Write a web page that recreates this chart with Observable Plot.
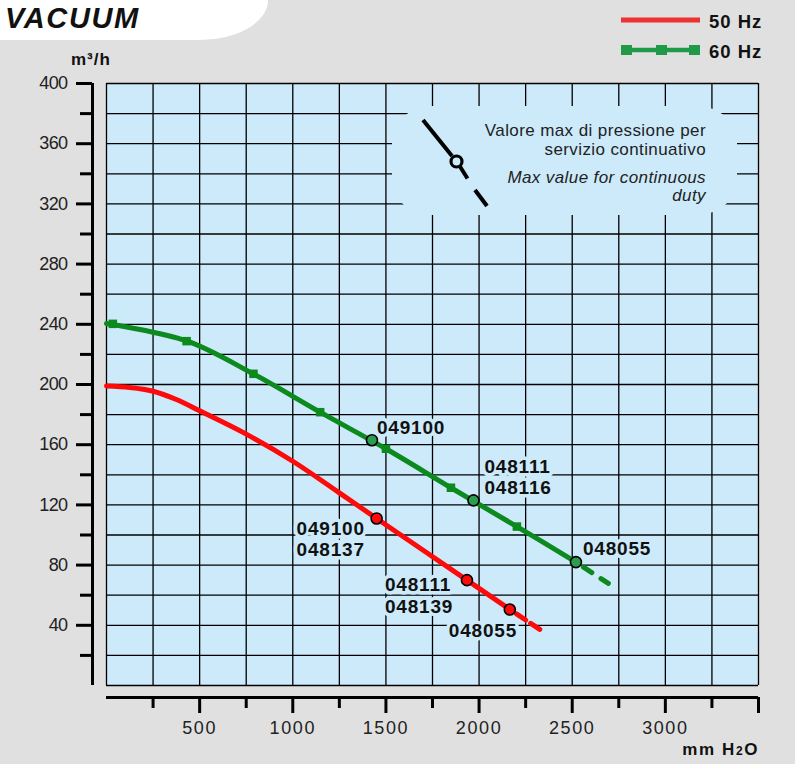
<!DOCTYPE html>
<html>
<head>
<meta charset="utf-8">
<script src="https://cdn.jsdelivr.net/npm/d3@7"></script>
<script src="https://cdn.jsdelivr.net/npm/@observablehq/plot@0.6"></script>
<style>
  body { margin: 0; background: #e0e0e0; }
  #page { position: relative; width: 795px; height: 764px; background: #e0e0e0; overflow: hidden;
          font-family: "Liberation Sans", Arial, sans-serif; }
  #page > svg { position: absolute; left: 0; top: 0; }
</style>
</head>
<body>
<div id="page"></div>
<script>
// ---------- data ----------
const titleText = "VACUUM";
const yUnit = "m³/h";
const seriesNames = ["50 Hz", "60 Hz"];

// 50 Hz curve (mm H2O, m3/h)
const red50X = [0, 125, 250, 375, 500, 750, 1000, 1250, 1450, 1935, 2165];
const red50Y = [199, 198, 195.5, 190, 182.5, 167, 149, 128, 111, 70, 50.5];
const red50DashX = [2165, 2335];
const red50DashY = [50.5, 36.5];
const red50DotX = [1450, 1935, 2165];
const red50DotY = [111, 70, 50.5];
const red50Labels = ["049100\n048137", "048111\n048139", "048055"];

// 60 Hz curve
const green60X = [0, 430, 789, 1147, 1500, 1849, 2203, 2520];
const green60Y = [240.5, 229, 207, 181.6, 157.3, 131.4, 105.6, 82];
const green60MarkX = [34, 430, 789, 1147, 1500, 1849, 2203];
const green60MarkY = [240.3, 228.8, 207.1, 181.6, 157.3, 131.4, 105.6];
const green60DashX = [2520, 2694];
const green60DashY = [82, 67.8];
const green60DotX = [1425, 1970, 2520];
const green60DotY = [163, 123, 82];
const green60Labels = ["049100", "048111\n048116", "048055"];

// axes
const xMajorTicks = [500, 1000, 1500, 2000, 2500, 3000, 3500];
const xTickLabels = [500, 1000, 1500, 2000, 2500, 3000];
const xMinorTicks = [250, 750, 1250, 1750, 2250, 2750, 3250];
const xGridTicks = [0, 250, 500, 750, 1000, 1250, 1500, 1750, 2000, 2250, 2500, 2750, 3000, 3250, 3500];
const yMajorTicks = [40, 80, 120, 160, 200, 240, 280, 320, 360, 400];
const yMinorTicks = [20, 60, 100, 140, 180, 220, 260, 300, 340, 380];
const yGridTicks = [0, 20, 40, 60, 80, 100, 120, 140, 160, 180, 200, 220, 240, 260, 280, 300, 320, 340, 360, 380, 400];
const xUnit = ["mm H", "2", "O"];
const noteIt = ["Valore max di pressione per", "servizio continuativo"];
const noteEn = ["Max value for continuous", "duty"];

// ---------- build tables ----------
const zip = (xs, ys, extra = {}) => xs.map((x, i) => ({x, y: ys[i], ...Object.fromEntries(Object.entries(extra).map(([k, v]) => [k, v[i]]))}));
const redLine = zip(red50X, red50Y);
const redDash = zip(red50DashX, red50DashY);
const redDots = zip(red50DotX, red50DotY, {label: red50Labels});
const greenLine = zip(green60X, green60Y);
const greenMarks = zip(green60MarkX, green60MarkY);
const greenDash = zip(green60DashX, green60DashY);
const greenDots = zip(green60DotX, green60DotY, {label: green60Labels});

const BG = "#cceafa";
const RED = "#ff0a0a";
const GREEN = "#0c8a1e";
const GREEN_DOT = "#2c9c52";
const LEGEND_GREEN = "#1f9a48";

const lbl = (d, opts) => Plot.text([d], {x: "x", y: "y", text: "label", textAnchor: "start", lineAnchor: "bottom",
  fontSize: 19, fontWeight: "bold", fill: "#111", stroke: BG, strokeWidth: 7, lineHeight: 1.14, ...opts});

const chart = Plot.plot({
  width: 795, height: 764,
  marginLeft: 106, marginRight: 37, marginTop: 83, marginBottom: 79,
  x: {domain: [0, 3500], label: null},
  y: {domain: [0, 400], label: null},
  style: {background: "transparent", fontFamily: "'Liberation Sans', Arial, sans-serif", color: "#111"},
  marks: [
    Plot.frame({fill: BG, stroke: null}),
    Plot.gridX(xGridTicks, {stroke: "#000", strokeOpacity: 1, strokeWidth: 1.3}),
    Plot.gridY(yGridTicks, {stroke: "#000", strokeOpacity: 1, strokeWidth: 1.3}),
    // separated axis lines
    Plot.ruleX([0], {dx: -14, stroke: "#000", strokeWidth: 3}),
    Plot.ruleY([0], {dy: 12, stroke: "#000", strokeWidth: 3}),
    Plot.axisY(yMajorTicks, {anchor: "left", tickSize: 16, tickPadding: 9, dx: -14, stroke: "#000", strokeWidth: 3,
      fill: "#222", fontSize: 18, label: null, tickFormat: d => String(d)}),
    Plot.axisY(yMinorTicks, {anchor: "left", tickSize: 12, dx: -14, stroke: "#000", strokeWidth: 3, label: null, tickFormat: () => ""}),
    Plot.axisX(xMajorTicks, {anchor: "bottom", tickSize: 16, tickPadding: 8, dy: 12, stroke: "#000", strokeWidth: 3,
      fill: "#222", fontSize: 18, label: null, tickFormat: d => xTickLabels.includes(d) ? String(d) : ""}),
    Plot.axisX(xMinorTicks, {anchor: "bottom", tickSize: 11, dy: 12, stroke: "#000", strokeWidth: 3, label: null, tickFormat: () => ""}),
    // curves
    Plot.line(redLine, {x: "x", y: "y", stroke: RED, strokeWidth: 5, curve: "catmull-rom"}),
    Plot.line(redDash, {x: "x", y: "y", stroke: RED, strokeWidth: 5, strokeDasharray: "11 6", strokeDashoffset: 9}),
    Plot.line(greenLine, {x: "x", y: "y", stroke: GREEN, strokeWidth: 5, curve: "catmull-rom"}),
    Plot.line(greenDash, {x: "x", y: "y", stroke: GREEN, strokeWidth: 5, strokeDasharray: "10 11", strokeDashoffset: 12}),
    Plot.dot(greenMarks, {x: "x", y: "y", symbol: "square", r: 4.8, fill: GREEN, stroke: null}),
    Plot.dot(redDots, {x: "x", y: "y", r: 5.5, fill: RED, stroke: "#000", strokeWidth: 1.6}),
    Plot.dot(greenDots, {x: "x", y: "y", r: 5.5, fill: GREEN_DOT, stroke: "#000", strokeWidth: 1.6}),
    // labels
    lbl(greenDots[0], {dx: 5, dy: -6}),
    lbl(greenDots[1], {dx: 11, dy: -6}),
    lbl(greenDots[2], {dx: 7, dy: -7}),
    lbl(redDots[0], {dx: -80, dy: 38}),
    lbl(redDots[1], {dx: -82, dy: 33}),
    lbl(redDots[2], {dx: -61, dy: 28})
  ]
});
chart.style.letterSpacing = "0.8px";
d3.select(chart).selectAll('g[aria-label="x-axis tick label"]').style("letter-spacing", "1.6px");
d3.select(chart).selectAll('g[aria-label="y-axis tick label"]').style("letter-spacing", "-0.6px");

const page = document.getElementById("page");
page.appendChild(chart);

// ---------- decorations overlay: title, legend, unit labels, note box ----------
const ov = d3.select(page).append("svg").attr("width", 795).attr("height", 764)
  .style("font-family", "'Liberation Sans', Arial, sans-serif");

ov.append("path").attr("d", "M0,0 H268 A68,40 0 0 1 200,40 H0 Z").attr("fill", "#fff");
ov.append("text").attr("x", 5).attr("y", 28).attr("font-size", 29).attr("font-weight", "bold")
  .attr("font-style", "italic").attr("letter-spacing", "1.6px").attr("fill", "#111").text(titleText);
ov.append("text").attr("x", 71).attr("y", 65).attr("font-size", 17).attr("font-weight", "bold")
  .attr("letter-spacing", "1px").attr("fill", "#111").text(yUnit);

const xu = ov.append("text").attr("x", 759).attr("y", 755).attr("text-anchor", "end").attr("font-size", 17)
  .attr("font-weight", "bold").attr("letter-spacing", "1.6px").attr("fill", "#111");
xu.append("tspan").text(xUnit[0]);
xu.append("tspan").attr("font-size", 12).text(xUnit[1]);
xu.append("tspan").text(xUnit[2]);

// legend
ov.append("line").attr("x1", 621).attr("x2", 700).attr("y1", 20).attr("y2", 20).attr("stroke", "#ee3030").attr("stroke-width", 5);
ov.append("line").attr("x1", 621).attr("x2", 700).attr("y1", 50).attr("y2", 50).attr("stroke", LEGEND_GREEN).attr("stroke-width", 4.5);
[621, 656, 689].forEach(x => ov.append("rect").attr("x", x).attr("y", 45).attr("width", 11).attr("height", 10).attr("fill", LEGEND_GREEN));
ov.append("text").attr("x", 709).attr("y", 28).attr("font-size", 18.5).attr("font-weight", "bold")
  .attr("letter-spacing", "1px").attr("fill", "#111").text(seriesNames[0]);
ov.append("text").attr("x", 709).attr("y", 58).attr("font-size", 18.5).attr("font-weight", "bold")
  .attr("letter-spacing", "1px").attr("fill", "#111").text(seriesNames[1]);

// note box
ov.append("rect").attr("x", 392).attr("y", 106).attr("width", 345).attr("height", 109)
  .attr("rx", 40).attr("ry", 35).attr("fill", BG);
ov.append("line").attr("x1", 423).attr("y1", 120).attr("x2", 452).attr("y2", 156).attr("stroke", "#000").attr("stroke-width", 4);
ov.append("circle").attr("cx", 456.5).attr("cy", 161.5).attr("r", 5.5).attr("fill", BG).attr("stroke", "#000").attr("stroke-width", 3.2);
ov.append("line").attr("x1", 460).attr("y1", 166.5).attr("x2", 467.5).attr("y2", 178.5).attr("stroke", "#000").attr("stroke-width", 4);
ov.append("line").attr("x1", 475).attr("y1", 190).attr("x2", 487).attr("y2", 206).attr("stroke", "#000").attr("stroke-width", 4);
const noteY = [136, 154.5, 183, 201];
[...noteIt, ...noteEn].forEach((t, i) => {
  ov.append("text").attr("x", 706).attr("y", noteY[i]).attr("text-anchor", "end").attr("font-size", 17)
    .attr("letter-spacing", "0.4px").attr("font-style", i >= 2 ? "italic" : "normal").attr("fill", "#222").text(t);
});
</script>
</body>
</html>
